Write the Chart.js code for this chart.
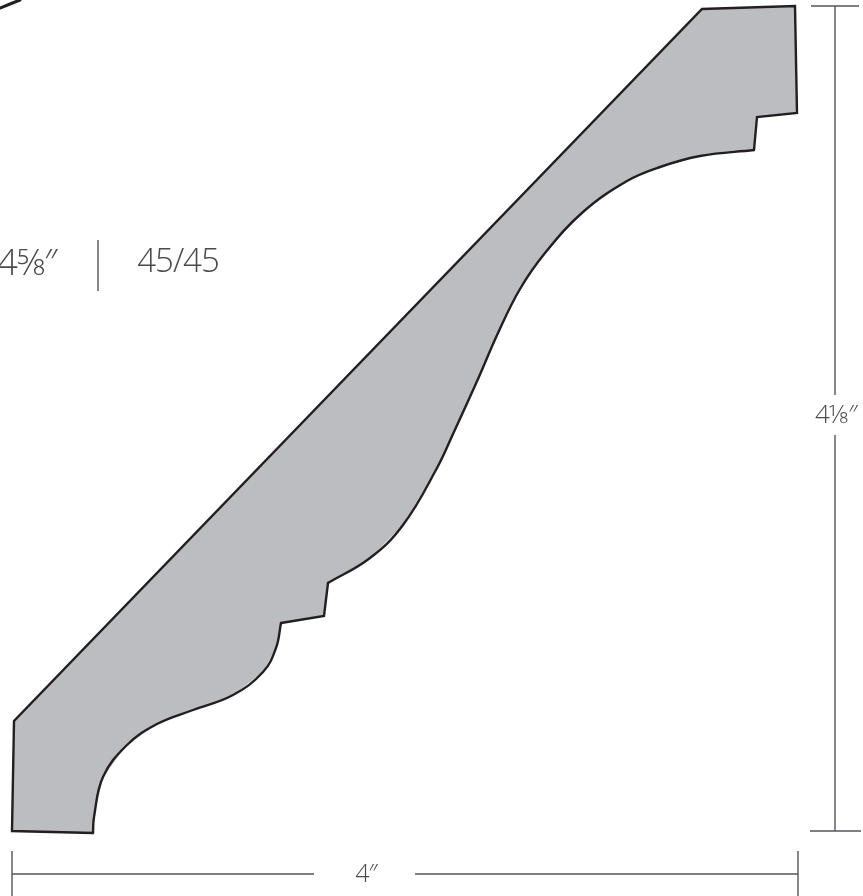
<!DOCTYPE html>
<html><head><meta charset="utf-8">
<style>html,body{margin:0;padding:0;background:#fff}#w{position:relative;width:863px;height:896px}canvas{display:block}</style>
<script src="https://cdn.jsdelivr.net/npm/chart.js@4"></script>
</head><body><div id="w"><canvas id="c" width="863" height="896" style="width:863px;height:896px"></canvas></div>
<script>
// Profile, in picture units
const upperCurveX = [754,700,660,627,583,545,520,498,478,453,437,403,370,328];
const upperCurveY = [150,156,167,181,212,253,289,333,379,434,468,525,558,583];
const lowerCurveX = [281,276,263,233,193,157,127,103,94,93];
const lowerCurveY = [623,648,672,695,710,724,745,777,817,833];
const backEdgeX = [93,12,14,702,795,797,757,754];
const backEdgeY = [833,831,721,9,6,113,117,150];
const stepX = [328,324,281];
const stepY = [583,616,623];
const arcX = [0,10,20];
const arcY = [8,4,0];
const dividerX = [98,98];
const dividerY = [240,291];
const heightLineX = [835,835];
const heightLineUpperY = [6,395];
const heightLineLowerY = [435,831];
const heightCapTopX = [811,859];
const heightCapTopY = [6,6];
const heightCapBottomX = [810,861];
const heightCapBottomY = [831,831];
const widthLineLeftX = [12,314];
const widthLineRightX = [415,798];
const widthLineY = [874,874];
const widthCapLeftX = [12,12];
const widthCapRightX = [798,798];
const widthCapY = [851,896];
const labelText = ["4⅝″","45/45","4⅛″","4″"];
const labelX = [27,178,836,366];
const labelY = [265,263,416,875];
const labelSize = [36,33,26,25];

const pairs = (xs,ys)=>xs.map((x,i)=>({x,y:ys[i]}));
const ink = {showLine:true,borderColor:'#231f20',borderWidth:2.4,pointRadius:0,fill:false,borderJoinStyle:'miter',borderCapStyle:'round'};
const rule = (xs,ys)=>({data:pairs(xs,ys),showLine:true,borderColor:'#55565a',borderWidth:1.4,pointRadius:0,fill:false,tension:0});
const labels = {id:'labels',afterDatasetsDraw(ch){
  const c=ch.ctx;c.save();c.fillStyle='#4a4b4f';c.textAlign='center';c.textBaseline='middle';
  labelText.forEach((t,i)=>{c.font='300 '+labelSize[i]+'px "Open Sans"';c.letterSpacing='-1px';
    c.fillText(t,ch.scales.x.getPixelForValue(labelX[i]),ch.scales.y.getPixelForValue(labelY[i]));});
  c.restore();}};
const outlineX = upperCurveX.concat(stepX,lowerCurveX,backEdgeX);
const outlineY = upperCurveY.concat(stepY,lowerCurveY,backEdgeY);
new Chart(document.getElementById('c'),{type:'scatter',
 data:{datasets:[
  {...ink,data:pairs(upperCurveX,upperCurveY),tension:0.4},
  {...ink,data:pairs(lowerCurveX,lowerCurveY),tension:0.4},
  {...ink,data:pairs(backEdgeX,backEdgeY),tension:0},
  {...ink,data:pairs(stepX,stepY),tension:0},
  {...ink,data:pairs(arcX,arcY),borderWidth:3,tension:0},
  rule(dividerX,dividerY),
  rule(heightLineX,heightLineUpperY),
  rule(heightLineX,heightLineLowerY),
  rule(heightCapTopX,heightCapTopY),
  rule(heightCapBottomX,heightCapBottomY),
  rule(widthLineLeftX,widthLineY),
  rule(widthLineRightX,widthLineY),
  rule(widthCapLeftX,widthCapY),
  rule(widthCapRightX,widthCapY),
  {data:pairs(outlineX,outlineY),showLine:true,fill:'shape',backgroundColor:'#bcbdc1',borderWidth:0,borderColor:'rgba(0,0,0,0)',pointRadius:0,tension:0}
 ]},
 options:{responsive:false,animation:false,devicePixelRatio:1,layout:{padding:0},
  plugins:{legend:{display:false},tooltip:{enabled:false}},
  scales:{x:{type:'linear',min:0,max:863,display:false},y:{type:'linear',min:0,max:896,reverse:true,display:false}}},
 plugins:[labels]});
</script></body></html>
